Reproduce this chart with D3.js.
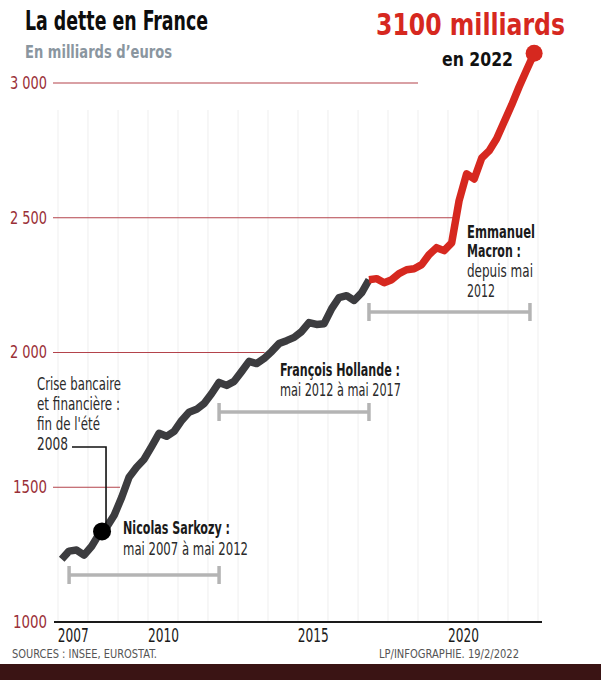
<!DOCTYPE html>
<html><head><meta charset="utf-8">
<script src="https://cdn.jsdelivr.net/npm/d3@7"></script>
<style>
html,body{margin:0;padding:0;background:#fff;}
svg{display:block;}
text{font-family:"Liberation Sans Narrow","DejaVu Sans Condensed","Liberation Sans",sans-serif;}
</style></head>
<body>
<svg id="chart" width="601" height="680"></svg>
<script>
// ---------- DATA ----------
const quarters = [
 "2007-T1","2007-T2","2007-T3","2007-T4","2008-T1","2008-T2","2008-T3","2008-T4",
 "2009-T1","2009-T2","2009-T3","2009-T4","2010-T1","2010-T2","2010-T3","2010-T4",
 "2011-T1","2011-T2","2011-T3","2011-T4","2012-T1","2012-T2","2012-T3","2012-T4",
 "2013-T1","2013-T2","2013-T3","2013-T4","2014-T1","2014-T2","2014-T3","2014-T4",
 "2015-T1","2015-T2","2015-T3","2015-T4","2016-T1","2016-T2","2016-T3","2016-T4",
 "2017-T1","2017-T2","2017-T3","2017-T4","2018-T1","2018-T2","2018-T3","2018-T4",
 "2019-T1","2019-T2","2019-T3","2019-T4","2020-T1","2020-T2","2020-T3","2020-T4",
 "2021-T1","2021-T2","2021-T3","2021-T4","2022-T1","2022-T2","2022-T3","2022-T4"];
const debt = [
 1233,1263,1267,1248,1281,1326,1352,1396,
 1463,1537,1574,1604,1652,1700,1689,1707,
 1748,1778,1789,1811,1848,1889,1878,1893,
 1930,1967,1959,1978,2004,2033,2044,2056,
 2078,2111,2104,2107,2163,2204,2211,2193,
 2222,2270,2274,2259,2270,2293,2307,2311,
 2326,2363,2389,2378,2407,2563,2663,2644,
 2722,2748,2793,2856,2919,2985,3048,3110];
const macronStartIndex = 41;          // first quarter drawn in red
const yTicks = [1000,1500,2000,2500,3000];
const yTickLabels = ["1000","1500","2 000","2 500","3 000"];
const xTickYears = [2007,2010,2015,2020];
const gridYears = [2007,2008,2009,2010,2011,2012,2013,2014,2015,2016,2017,2018,2019,2020,2021,2022,2023];
const presidents = ["Nicolas Sarkozy :","François Hollande :","Emmanuel Macron :"];
const mandateStart = ["2007-05-16","2012-05-15","2017-05-14"];
const mandateEnd   = ["2012-05-15","2017-05-14","2022-09-25"];
const mandateText  = ["mai 2007 à mai 2012","mai 2012 à mai 2017","depuis mai 2012"];
const crisisDate = "2008-06-20";
const crisisLines = ["Crise bancaire","et financière :","fin de l'été","2008"];
const title = "La dette en France";
const subtitle = "En milliards d’euros";
const headline = "3100 milliards";
const headlineSub = "en 2022";
const sources = "SOURCES : INSEE, EUROSTAT.";
const credit = "LP/INFOGRAPHIE.  19/2/2022";

// ---------- SCALES ----------
const parseQ = s => { const [y,q] = s.split("-T"); return new Date(+y, (+q-1)*3+1, 15); };
const series = quarters.map((q,i)=>({date:parseQ(q), value:debt[i]}));
const x = d3.scaleTime().domain([new Date(2007,0,1), new Date(2023,0,1)]).range([58,538]);
const y = d3.scaleLinear().domain([1000,3000]).range([622,83]);

const svg = d3.select("#chart");
const RED = "#d6281f", DARK = "#3c3c3f", GRID_RED = "#b3434b", GRAY = "#b4b4b4";
const FONT = '"Liberation Sans Narrow","DejaVu Sans Condensed",sans-serif';

// bottom dark band
svg.append("rect").attr("x",0).attr("y",664).attr("width",601).attr("height",16).attr("fill","#3a1414");

// vertical light grid (year boundaries)
svg.append("g").selectAll("line").data(gridYears).join("line")
  .attr("x1",d=>x(new Date(d,0,1))).attr("x2",d=>x(new Date(d,0,1)))
  .attr("y1",110).attr("y2",622).attr("stroke","#efefef").attr("stroke-width",1);

// horizontal red gridlines with their own lengths
const gridEnd = {1500:new Date(2009,0,25), 2000:new Date(2013,10,20), 2500:new Date(2020,2,10), 3000:new Date(2019,0,1)};
svg.append("g").selectAll("line").data(yTicks.filter(d=>d>1000)).join("line")
  .attr("x1",53).attr("x2",d=>x(gridEnd[d]))
  .attr("y1",d=>y(d)).attr("y2",d=>y(d))
  .attr("stroke",GRID_RED).attr("stroke-width",1.2);

// y axis labels
const yAxis = d3.axisLeft(y).tickValues(yTicks).tickFormat((d,i)=>yTickLabels[i]).tickSize(0).tickPadding(0);
const gy = svg.append("g").attr("transform","translate(47,0)").call(yAxis);
gy.select(".domain").remove();
gy.selectAll("text").attr("font-size",17).attr("fill","#9a2f37").attr("font-family",FONT)
  .attr("textLength",(d,i)=>yTickLabels[i].length>4?37:34).attr("lengthAdjust","spacingAndGlyphs");

// x axis baseline + labels
svg.append("line").attr("x1",54).attr("x2",542).attr("y1",622).attr("y2",622).attr("stroke","#1a1a1a").attr("stroke-width",2);
const xAxis = d3.axisBottom(x).tickValues(xTickYears.map(yr=>new Date(yr,6,1))).tickFormat(d3.timeFormat("%Y")).tickSize(0).tickPadding(5);
const gx = svg.append("g").attr("transform","translate(0,624)").call(xAxis);
gx.select(".domain").remove();
gx.selectAll("text").attr("font-size",19).attr("fill","#1a1a1a").attr("font-family",FONT)
  .attr("textLength",31).attr("lengthAdjust","spacingAndGlyphs");

// mandate brackets
const bracketY = [575,412,312];
presidents.forEach((p,i)=>{
  const g = svg.append("g").attr("stroke",GRAY).attr("stroke-width",3.5);
  const x1 = x(new Date(mandateStart[i])), x2 = x(new Date(mandateEnd[i]));
  g.append("line").attr("x1",x1).attr("x2",x2).attr("y1",bracketY[i]).attr("y2",bracketY[i]);
  g.append("line").attr("x1",x1).attr("x2",x1).attr("y1",bracketY[i]-9).attr("y2",bracketY[i]+9);
  g.append("line").attr("x1",x2).attr("x2",x2).attr("y1",bracketY[i]-9).attr("y2",bracketY[i]+9);
});

// debt line
const line = d3.line().x(d=>x(d.date)).y(d=>y(d.value));
svg.append("path").datum(series.slice(0,macronStartIndex+1)).attr("d",line)
  .attr("fill","none").attr("stroke",DARK).attr("stroke-width",7.5).attr("stroke-linejoin","round");
svg.append("path").datum(series.slice(macronStartIndex)).attr("d",line)
  .attr("fill","none").attr("stroke",RED).attr("stroke-width",7.5).attr("stroke-linejoin","round");
const last = series[series.length-1];
svg.append("circle").attr("cx",x(last.date)).attr("cy",y(last.value)).attr("r",8.5).attr("fill",RED);

// crisis marker
const cd = new Date(crisisDate);
const bi = d3.bisector(d=>d.date).left(series,cd);
const a = series[bi-1], b = series[bi];
const t = (cd-a.date)/(b.date-a.date);
const cv = a.value + t*(b.value-a.value);
const cx = x(cd), cy = y(cv);
svg.append("path").attr("d",`M72,447H${cx+4}V${cy-6}`).attr("fill","none").attr("stroke","#111").attr("stroke-width",1.6);
svg.append("circle").attr("cx",cx).attr("cy",cy).attr("r",9).attr("fill","#000");

// ---------- TEXT ----------
function txt(s,xp,yp,opt){
  const e = svg.append("text").attr("x",xp).attr("y",yp).text(s)
    .attr("font-size",opt.size).attr("font-weight",opt.bold?"bold":"normal").attr("fill",opt.fill||"#222");
  if(opt.len){ e.attr("textLength",opt.len).attr("lengthAdjust","spacingAndGlyphs"); }
  return e;
}
txt(title,25,30,{size:27,bold:true,fill:"#0d0d0d",len:183});
txt(subtitle,25,58,{size:18,bold:true,fill:"#8a969f",len:147});
txt(headline,376,35,{size:31,bold:true,fill:RED,len:189});
txt(headlineSub,442,66,{size:20,bold:true,fill:"#111",len:71});

const AS = 17.5;
const crisisY = [390,410,430,450], crisisW = [84,83,63,31];
crisisLines.forEach((l,i)=>txt(l,37,crisisY[i],{size:AS,fill:"#2a2a2a",len:crisisW[i]}));

txt(presidents[0],123,534,{size:AS,bold:true,fill:"#1a1a1a",len:107});
txt(mandateText[0],123,555,{size:AS,fill:"#2a2a2a",len:125});
txt(presidents[1],280,376,{size:AS,bold:true,fill:"#1a1a1a",len:120});
txt(mandateText[1],280,396,{size:AS,fill:"#2a2a2a",len:121});
const mac = presidents[2].split(" ");
txt(mac[0],467,238,{size:AS,bold:true,fill:"#1a1a1a",len:68});
txt(mac[1]+" "+mac[2],467,257,{size:AS,bold:true,fill:"#1a1a1a",len:54});
const mt = mandateText[2].split(" ");
txt(mt[0]+" "+mt[1],467,277,{size:AS,fill:"#2a2a2a",len:66});
txt(mt[2],467,297,{size:AS,fill:"#2a2a2a",len:28});

txt(sources,12,658,{size:12.5,fill:"#555",len:145});
txt(credit,379,658,{size:12.5,fill:"#555",len:140});
</script>
</body></html>
